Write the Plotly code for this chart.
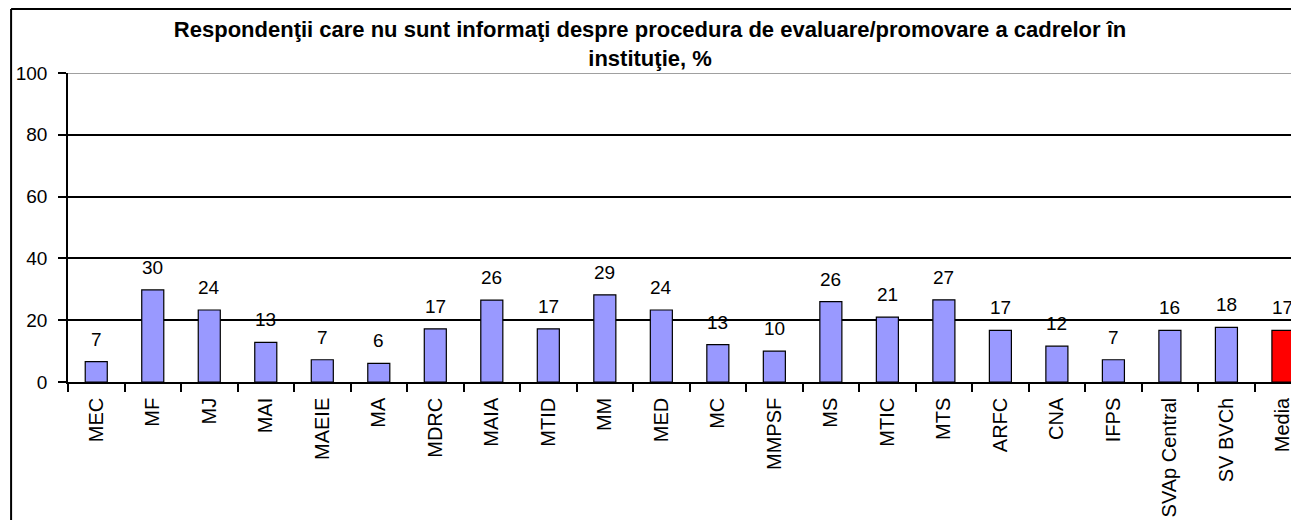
import plotly.graph_objects as go

categories = ["MEC", "MF", "MJ", "MAI", "MAEIE", "MA", "MDRC", "MAIA", "MTID", "MM", "MED",
              "MC", "MMPSF", "MS", "MTIC", "MTS", "ARFC", "CNA", "IFPS", "SVAp Central",
              "SV BVCh", "Media"]
values = [6.6, 29.8, 23.3, 12.8, 7.2, 6.0, 17.2, 26.5, 17.2, 28.2, 23.3,
          12.1, 10.0, 26.0, 21.0, 26.6, 16.7, 11.6, 7.2, 16.7, 17.7, 16.7]
labels = ["7", "30", "24", "13", "7", "6", "17", "26", "17", "29", "24",
          "13", "10", "26", "21", "27", "17", "12", "7", "16", "18", "17"]
y_ticks = [0, 20, 40, 60, 80, 100]
title_text = ("Respondenţii care nu sunt informaţi despre procedura de evaluare/promovare a cadrelor în"
              "<br>instituţie, %")

FONT = "Arial, Liberation Sans, sans-serif"
W, H = 1299, 520
# page body has an 8px margin; figure coordinates are page coordinates minus 8
L, R, T, B = 58, 8, 65, 146
pw, ph = W - L - R, H - T - B
CAT_W = 56.6

colors = ["#FF0000" if c == "Media" else "#9999FF" for c in categories]

fig = go.Figure()
fig.add_trace(go.Bar(
    x=categories, y=values,
    marker=dict(color=colors, line=dict(color="black", width=1.2)),
    width=0.39, showlegend=False, hoverinfo="x+y",
))

for c, v, t in zip(categories, values, labels):
    fig.add_annotation(x=c, y=v, text=t, showarrow=False, yanchor="bottom",
                       yshift=10, font=dict(family=FONT, size=19, color="black"))

# top border of plot area (gray)
fig.add_shape(type="line", xref="paper", yref="y", x0=0, x1=1.01, y0=100, y1=100,
              line=dict(color="#808080", width=1.5), layer="above")
# outer chart frame (left and top edges visible)
fig.add_shape(type="line", xref="paper", yref="paper",
              x0=-(L - 1) / pw, x1=-(L - 1) / pw, y0=-B / ph, y1=(ph + T - 1) / ph,
              line=dict(color="black", width=2), layer="above")
fig.add_shape(type="line", xref="paper", yref="paper",
              x0=-(L - 1) / pw, x1=(pw + R) / pw, y0=(ph + T - 1) / ph, y1=(ph + T - 1) / ph,
              line=dict(color="black", width=2), layer="above")

fig.update_layout(
    width=W, height=H,
    margin=dict(l=L, r=R, t=T, b=B),
    paper_bgcolor="white", plot_bgcolor="white",
    font=dict(family=FONT, color="black"),
    title=dict(text="<b>" + title_text + "</b>", x=(641 - L) / pw, xref="paper", xanchor="center",
               y=1 - 29 / H, yref="container", yanchor="top",
               font=dict(size=22, family=FONT, color="black")),
)
fig.update_xaxes(
    type="category", range=[-0.5, -0.5 + pw / CAT_W],
    showline=True, linecolor="black", linewidth=1.5,
    ticks="outside", tickson="boundaries", ticklen=8, tickcolor="black", tickwidth=1.5,
    tickangle=-90, tickfont=dict(size=20, family=FONT), ticklabelstandoff=6,
    showgrid=False,
)
fig.update_yaxes(
    range=[0, 100], tickvals=y_ticks,
    showline=True, linecolor="black", linewidth=1.5,
    ticks="outside", ticklen=8, tickcolor="black", tickwidth=1.5,
    showgrid=True, gridcolor="black", gridwidth=1.5, zeroline=False,
    tickfont=dict(size=19, family=FONT), ticklabelstandoff=7,
)

fig.write_html("out.html")
